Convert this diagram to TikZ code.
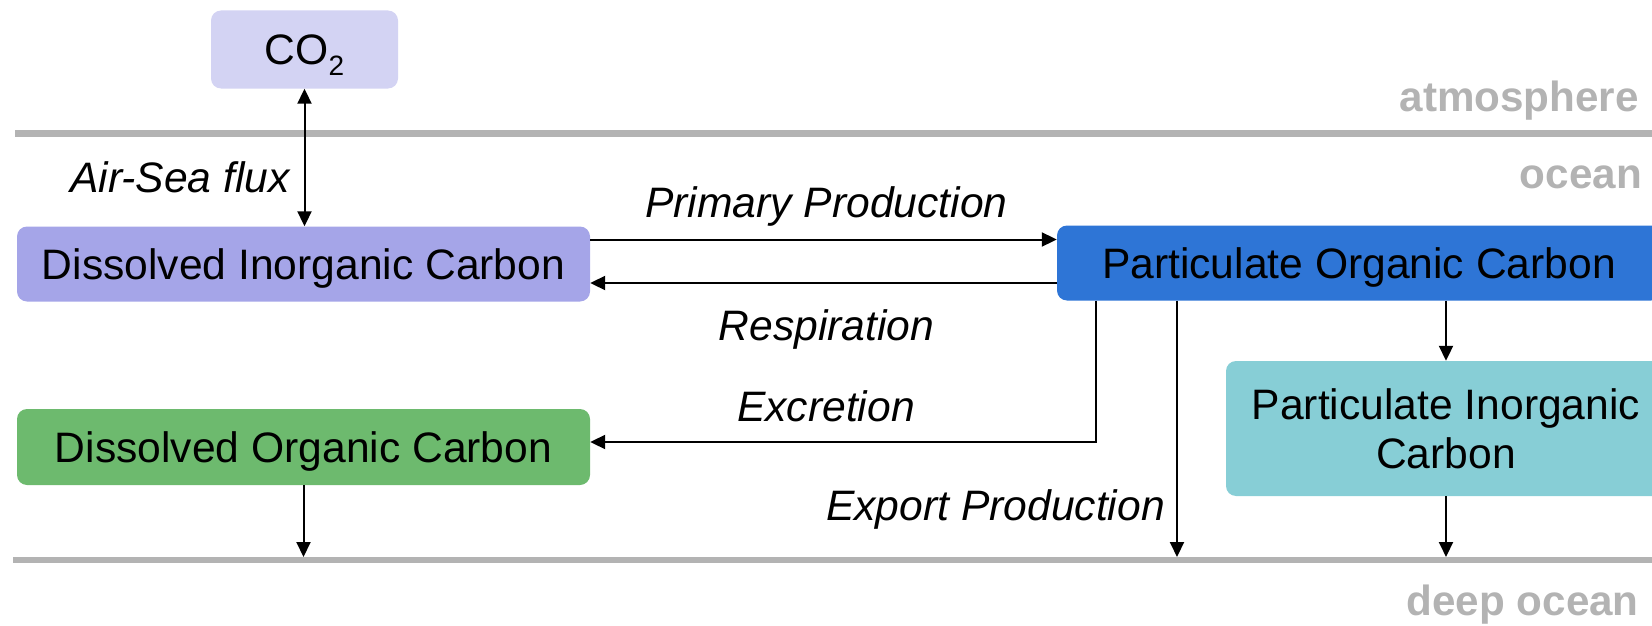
\documentclass[tikz,border=0pt]{standalone}
\usepackage{fontspec}
\setmainfont{Liberation Sans}
\usetikzlibrary{arrows.meta,calc}
\definecolor{co2fill}{HTML}{D3D3F3}
\definecolor{dicfill}{HTML}{A5A5E8}
\definecolor{pocfill}{HTML}{2E75D6}
\definecolor{picfill}{HTML}{87CED6}
\definecolor{docfill}{HTML}{6DBA6E}
\definecolor{zonegray}{HTML}{B3B3B3}
\begin{document}
\begin{tikzpicture}[x=1pt,y=-1pt,
  box/.style={rounded corners=10pt, inner sep=0pt, font=\fontsize{42.6}{49}\selectfont, align=center},
  onebox/.style={box, text height=31pt, text depth=0pt},
  lbl/.style={inner sep=0pt, font=\fontsize{42.6}{49}\selectfont\itshape, anchor=base},
  zone/.style={inner sep=0pt, font=\fontsize{42.2}{48}\selectfont\bfseries, text=zonegray, anchor=base east},
  sep/.style={draw=zonegray, line width=6.5pt},
  arr/.style={line width=2pt, -{Triangle[length=15pt,width=14pt]}},
  darr/.style={line width=2pt, {Triangle[length=15pt,width=14pt]}-{Triangle[length=15pt,width=14pt]}}
]
\useasboundingbox (0,0) rectangle (1652,626);

% separators
\coordinate (atmL) at (15,133.5);
\coordinate (atmR) at (1652,133.5);
\coordinate (deepL) at (13,560);
\coordinate (deepR) at (1652,560);
\coordinate (deepT) at (0,557);
\draw[sep] (atmL) -- (atmR);
\draw[sep] (deepL) -- (deepR);

% zone labels
\node[zone] (zatm) at (1639,111) {atmosphere};
\node[zone] (zocean) at (1642,188) {ocean};
\node[zone] (zdeep) at (1639,615) {deep ocean};

% boxes
\node[onebox, fill=co2fill, minimum width=187pt, minimum height=78pt] (co2) at (304.5,49.5) {CO\raisebox{-11pt}{\fontsize{28}{28}\selectfont 2}};
\node[onebox, fill=dicfill, minimum width=573pt, minimum height=75pt] (dic) at (303.5,264) {Dissolved Inorganic Carbon};
\node[onebox, fill=docfill, minimum width=573pt, minimum height=76pt] (doc) at (303.5,447) {Dissolved Organic Carbon};
\node[onebox, fill=pocfill, minimum width=604pt, minimum height=75pt] (poc) at (1359,263) {Particulate Organic Carbon};
\node[box, fill=picfill, minimum width=440pt, minimum height=135pt] (pic) at (1446,428.5) {\raisebox{-2pt}{Particulate Inorganic}\\\raisebox{-2pt}{Carbon}};

% connectors
\coordinate (exc) at (1096,0);
\coordinate (exp) at (1177,0);
\draw[darr] (co2.south) -- (co2.south |- dic.north);
\draw[arr] ([yshift=24.5pt]dic.east) -- ([yshift=24.5pt]dic.east -| poc.west);
\draw[arr] ([yshift=-19pt]dic.east -| poc.west) -- ([yshift=-19pt]dic.east);
\draw[arr] (exc |- poc.south) |- ([yshift=5pt]doc.east);
\draw[arr] (exp |- poc.south) -- (exp |- deepT);
\draw[arr] (pic.north |- poc.south) -- (pic.north);
\draw[arr] (pic.south) -- (pic.south |- deepT);
\draw[arr] (doc.south) -- (doc.south |- deepT);

% labels
\node[lbl, anchor=base east] (lair) at (290,192) {Air-Sea flux};
\node[lbl] (lpp) at (826.5,217) {Primary Production};
\node[lbl] (lresp) at (826.5,340) {Respiration};
\node[lbl] (lexc) at (826,421) {Excretion};
\node[lbl, anchor=base east] (lexp) at (1165,520) {Export Production};
\end{tikzpicture}
\end{document}
